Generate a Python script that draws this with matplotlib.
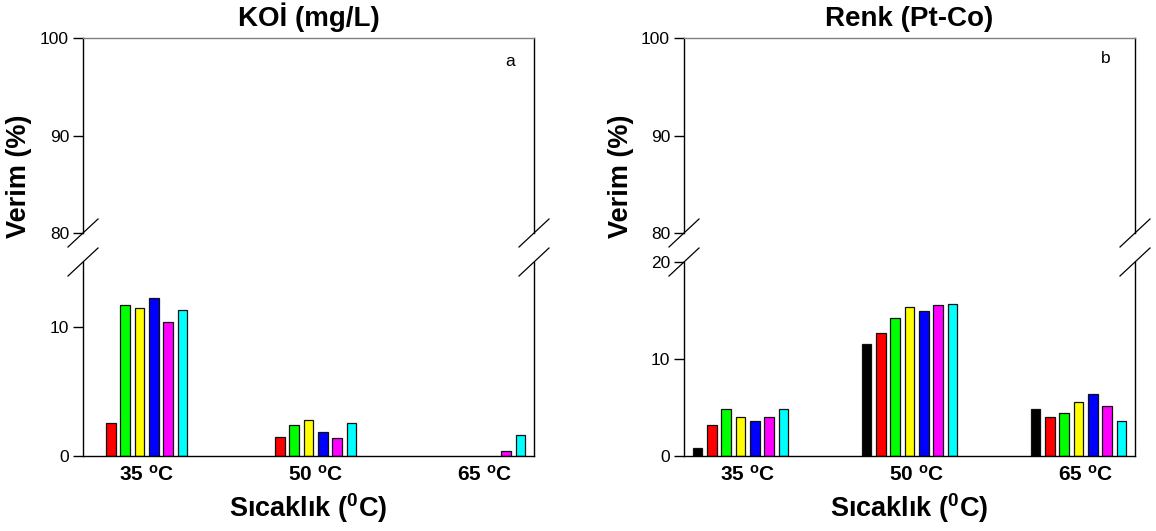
import matplotlib
matplotlib.use("Agg")
import matplotlib.pyplot as plt
from matplotlib.lines import Line2D
import numpy as np

plt.rcParams["font.family"] = ["Liberation Sans", "DejaVu Sans"]
plt.rcParams["mathtext.fontset"] = "custom"
plt.rcParams["mathtext.rm"] = "Liberation Sans"
plt.rcParams["mathtext.bf"] = "Liberation Sans:bold"

# groups on the x axis
temps = ["35", "50", "65"]
bar_colors = ["black", "red", "#00ff00", "yellow", "blue", "magenta", "cyan"]

# KOİ removal efficiency (%), one row per bar colour
koi_values = [
    [0.0, 0.0, 0.0],
    [2.53, 1.44, 0.0],
    [11.68, 2.40, 0.0],
    [11.42, 2.75, 0.0],
    [12.20, 1.85, 0.0],
    [10.36, 1.36, 0.41],
    [11.32, 2.52, 1.62],
]

# Renk removal efficiency (%), one row per bar colour
renk_values = [
    [0.79, 11.58, 4.85],
    [3.20, 12.65, 4.05],
    [4.81, 14.20, 4.40],
    [4.02, 15.36, 5.60],
    [3.61, 14.98, 6.40],
    [4.02, 15.53, 5.20],
    [4.88, 15.64, 3.60],
]

W, H = 1156, 531
fig = plt.figure(figsize=(W / 100, H / 100), dpi=100)


def fx(px):
    return px / W


def fy(py):
    return 1 - py / H


def panel(x0, x1, values, low_top, low_ticks, title, letter, letter_pos):
    ax_up = fig.add_axes([fx(x0), fy(233), fx(x1 - x0), fy(38) - fy(233)])
    ax_lo = fig.add_axes([fx(x0), fy(456), fx(x1 - x0), fy(262) - fy(456)])

    x = np.arange(1, len(temps) + 1)
    step, width = 0.085, 0.057
    for i, (vals, c) in enumerate(zip(values, bar_colors)):
        vals = np.array(vals)
        ax_lo.bar(x + (i - 3) * step, vals, width=width, color=c,
                  edgecolor=["#111111" if v > 0 else "none" for v in vals],
                  linewidth=0.9)

    for ax in (ax_up, ax_lo):
        ax.set_xlim(0.665, 3.335)
        ax.tick_params(axis="y", direction="out", length=7, width=1,
                       labelsize=12.5, pad=3)
        for s in ax.spines.values():
            s.set_linewidth(1.0)

    ax_up.set_ylim(80, 100)
    ax_up.set_yticks([80, 90, 100])
    ax_up.set_xticks([])
    ax_up.spines["bottom"].set_visible(False)
    ax_up.spines["top"].set_color("#808080")

    ax_lo.set_ylim(0, low_top)
    ax_lo.set_yticks(low_ticks)
    ax_lo.spines["top"].set_visible(False)
    ax_lo.set_xticks(x + 0.04)
    ax_lo.set_xticklabels([t + r" $\mathbf{^o}$C" for t in temps],
                          fontweight="bold", fontsize=15)
    ax_lo.tick_params(axis="x", length=0, pad=6)
    ax_lo.set_xlabel(r"Sıcaklık ($\mathbf{^0}$C)", fontweight="bold",
                     fontsize=19.5, labelpad=5)

    ax_up.set_title(title, fontweight="bold", fontsize=20, pad=9)
    ax_up.text(letter_pos[0], letter_pos[1], letter, transform=ax_up.transAxes,
               fontsize=12.5, ha="center", va="center")

    # axis break marks on both sides
    for xs in (x0, x1):
        for ys in (233, 262):
            fig.add_artist(Line2D([fx(xs - 15), fx(xs + 15)],
                                  [fy(ys + 14), fy(ys - 14)],
                                  color="black", linewidth=0.9))
    return ax_up, ax_lo


panel(83, 534, koi_values, 15, [0, 10], "KOİ (mg/L)", "a", (0.947, 0.877))
panel(684, 1135, renk_values, 20, [0, 10, 20], "Renk (Pt-Co)", "b", (0.936, 0.897))

fig.text(fx(19), fy(176), "Verim (%)", rotation=90, fontweight="bold",
         fontsize=19.5, ha="center", va="center")
fig.text(fx(621), fy(176), "Verim (%)", rotation=90, fontweight="bold",
         fontsize=19.5, ha="center", va="center")

fig.savefig("out.png", dpi=100)
